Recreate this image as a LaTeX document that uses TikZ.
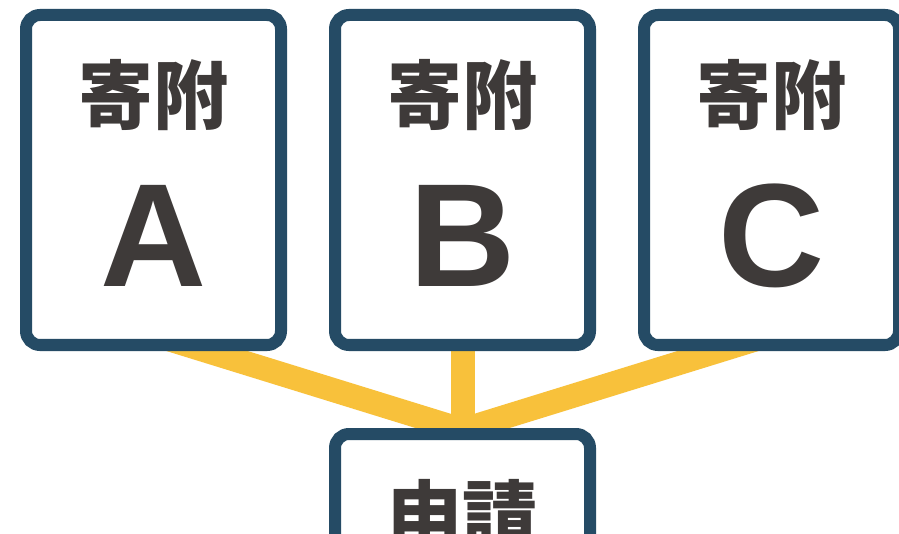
\documentclass[tikz,border=0pt]{standalone}
\usepackage{fontspec}
\setmainfont{Liberation Sans}
\newfontfamily\cjk{Noto Sans CJK JP}
\usetikzlibrary{backgrounds}
\definecolor{bordercol}{HTML}{254B65}
\definecolor{linkcol}{HTML}{F8C13B}
\definecolor{txtcol}{HTML}{3E3A39}
\begin{document}
\begin{tikzpicture}[x=1pt,y=-1pt,
  card/.style={draw=bordercol, line width=12pt, fill=white, rounded corners=14pt,
    minimum width=255pt, minimum height=330pt, inner sep=0pt, outer sep=0pt},
  kanji/.style={text=txtcol, inner sep=0pt, font=\cjk\bfseries\fontsize{75}{75}\selectfont},
  letter/.style={text=txtcol, inner sep=0pt, font=\bfseries\fontsize{147}{147}\selectfont},
  link/.style={draw=linkcol, line width=24pt}]
\useasboundingbox (0,0) rectangle (899,534);
\node[card] (A) at (153.5,180) {};
\node[card] (B) at (462.5,180) {};
\node[card] (C) at (771.5,180) {};
\node[card] (D) at (462.5,599) {};
\node[kanji] (ka) at (153.5,95) {寄附};
\node[kanji] (kb) at (462.5,95) {寄附};
\node[kanji] (kc) at (771.5,95) {寄附};
\node[letter] (la) at (153.5,235.5) {A};
\node[letter] (lb) at (462.5,235.5) {B};
\node[letter] (lc) at (771.5,235.5) {C};
\node[kanji] (kd) at (462.5,515) {申請};
\coordinate (j) at (462.5,430);
\coordinate (a1) at (139,330);
\coordinate (c1) at (786,330);
\begin{scope}[on background layer]
  \fill[white] (0,0) rectangle (899,534);
  \draw[link] (a1) -- (j);
  \draw[link] (c1) -- (j);
  \draw[link] (B.south) -- (j);
\end{scope}
\end{tikzpicture}
\end{document}
